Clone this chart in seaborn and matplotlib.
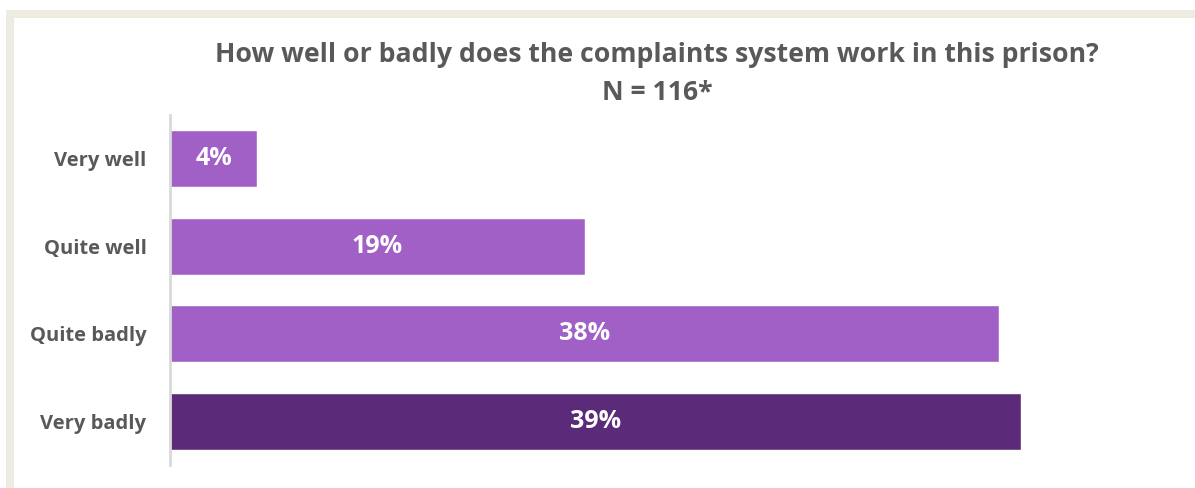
import matplotlib
matplotlib.use("Agg")
import matplotlib.pyplot as plt
import seaborn as sns
import pandas as pd
from matplotlib.patches import Rectangle

categories = ["Very well", "Quite well", "Quite badly", "Very badly"]
percentages = [4, 19, 38, 39]
bar_colors = ["#a060c6", "#a060c6", "#a060c6", "#5b2a78"]

title_line1 = "How well or badly does the complaints system work in this prison?"
title_line2 = "N = 116*"

df = pd.DataFrame({"category": categories, "pct": percentages})

sns.set_theme(style="white")
plt.rcParams["font.family"] = ["Open Sans", "DejaVu Sans"]

fig = plt.figure(figsize=(11.95, 4.88), dpi=100)

# beige frame around the white panel
fig.patches.append(Rectangle((0, 0), 1, 1, transform=fig.transFigure,
                             facecolor="white", edgecolor="none", zorder=-3))
fig.patches.append(Rectangle((6 / 1195, -0.1), 1.2, 1.1 - 10 / 488,
                             transform=fig.transFigure, facecolor="#eeebe1",
                             edgecolor="none", zorder=-2))
fig.patches.append(Rectangle((14 / 1195, -0.1), 1.2, 1.1 - 18 / 488,
                             transform=fig.transFigure, facecolor="white",
                             edgecolor="none", zorder=-1))

ax = fig.add_axes([170 / 1195, 1 - 465 / 488, 930 / 1195, 350 / 488])
ax.set_facecolor("none")

sns.barplot(data=df, y="category", x="pct", hue="category",
            palette=bar_colors, order=categories, hue_order=categories,
            legend=False, width=0.655, ax=ax, saturation=1)

ax.set_xlim(0, 930 / 21.82)
ax.set_ylim(3.5, -0.5)

for bar, val in zip(ax.patches, percentages):
    cx = bar.get_x() + bar.get_width() / 2
    cy = bar.get_y() + bar.get_height() / 2
    ax.text(cx, cy, f"{val}%", ha="center", va="center", color="white",
            fontsize=18, fontweight="bold")

ax.set_xlabel("")
ax.set_ylabel("")
ax.set_xticks([])
ax.tick_params(axis="y", length=0, pad=17)
for lbl in ax.get_yticklabels():
    lbl.set_fontsize(14.5)
    lbl.set_fontweight("bold")
    lbl.set_color("#595959")

for side in ["top", "right", "bottom"]:
    ax.spines[side].set_visible(False)
ax.spines["left"].set_color("#d9d9d9")
ax.spines["left"].set_linewidth(2)

fig.text(657 / 1195, 1 - 62 / 488, title_line1, ha="center", va="baseline",
         fontsize=19.2, fontweight="bold", color="#595959")
fig.text(657 / 1195, 1 - 100 / 488, title_line2, ha="center", va="baseline",
         fontsize=19.2, fontweight="bold", color="#595959")

fig.savefig("out.png", dpi=100)
